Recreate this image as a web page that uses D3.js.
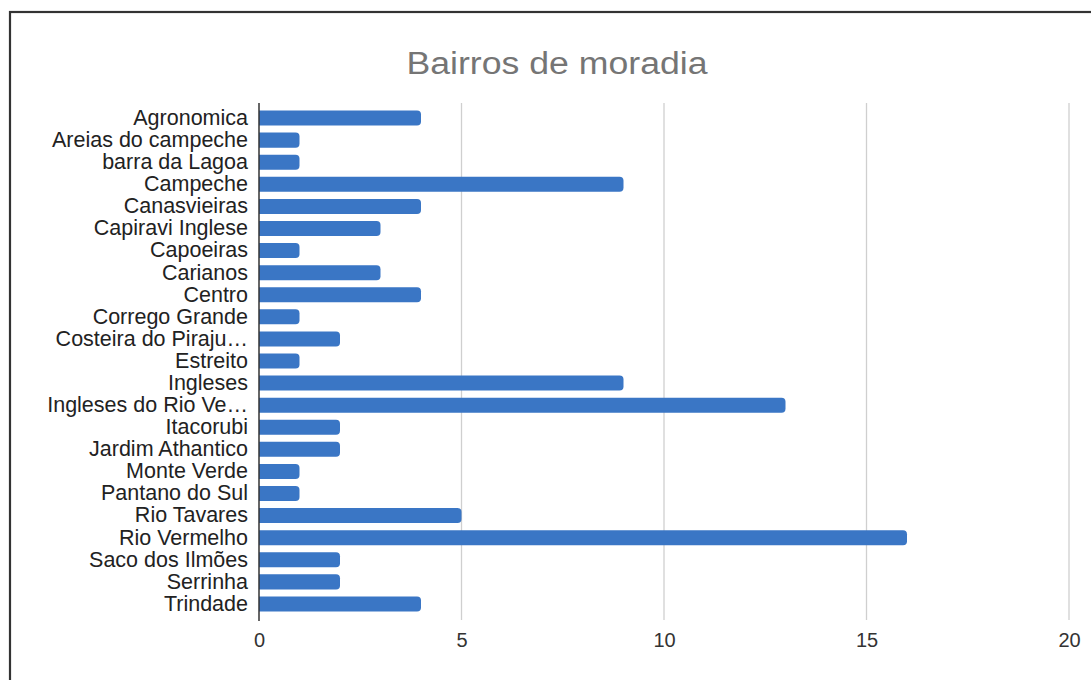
<!DOCTYPE html>
<html>
<head>
<meta charset="utf-8">
<script src="https://cdn.jsdelivr.net/npm/d3@7"></script>
<style>
  html, body { margin: 0; padding: 0; background: #fff; }
  svg { display: block; }
</style>
</head>
<body>
<svg id="chart" width="1091" height="680"></svg>
<script>
// Neighbourhoods of residence and number of respondents
const categories = [
  "Agronomica", "Areias do campeche", "barra da Lagoa", "Campeche", "Canasvieiras",
  "Capiravi Inglese", "Capoeiras", "Carianos", "Centro", "Corrego Grande",
  "Costeira do Piraju…", "Estreito", "Ingleses", "Ingleses do Rio Ve…", "Itacorubi",
  "Jardim Athantico", "Monte Verde", "Pantano do Sul", "Rio Tavares", "Rio Vermelho",
  "Saco dos Ilmões", "Serrinha", "Trindade"
];
const values = [4, 1, 1, 9, 4, 3, 1, 3, 4, 1, 2, 1, 9, 13, 2, 2, 1, 1, 5, 16, 2, 2, 4];
const xTicks = [0, 5, 10, 15, 20];
const titleText = "Bairros de moradia";

const svg = d3.select("#chart");
const font = "'Liberation Sans', Arial, sans-serif";

// outer frame
svg.append("rect")
  .attr("x", 10).attr("y", 12)
  .attr("width", 1100).attr("height", 700)
  .attr("fill", "none").attr("stroke", "#333").attr("stroke-width", 2.2);

const plotLeft = 259, plotRight = 1069, plotTop = 107, plotBottom = 615;

const x = d3.scaleLinear().domain([0, 20]).range([plotLeft, plotRight]);
const y = d3.scaleBand().domain(categories).range([plotTop, plotBottom]).paddingInner(0.32).paddingOuter(0.16);

// title
svg.append("text")
  .attr("x", 557).attr("y", 74)
  .attr("text-anchor", "middle")
  .attr("font-family", font).attr("font-size", 31)
  .attr("textLength", 301).attr("lengthAdjust", "spacingAndGlyphs")
  .attr("fill", "#757575")
  .text(titleText);

// vertical gridlines
svg.append("g").selectAll("line")
  .data(xTicks.filter(d => d > 0))
  .join("line")
  .attr("x1", d => x(d)).attr("x2", d => x(d))
  .attr("y1", 103).attr("y2", 620)
  .attr("stroke", "#cfcfcf").attr("stroke-width", 1.3);

// bars with rounded right end
const r = 4;
svg.append("g").selectAll("path")
  .data(values.map((v, i) => ({ c: categories[i], v })))
  .join("path")
  .attr("fill", "#3a76c5")
  .attr("d", d => {
    const x0 = x(0), x1 = x(d.v), y0 = y(d.c), h = y.bandwidth();
    return `M${x0},${y0} H${x1 - r} Q${x1},${y0} ${x1},${y0 + r} V${y0 + h - r} Q${x1},${y0 + h} ${x1 - r},${y0 + h} H${x0} Z`;
  });

// baseline
svg.append("line")
  .attr("x1", plotLeft).attr("x2", plotLeft)
  .attr("y1", 103).attr("y2", 621)
  .attr("stroke", "#333").attr("stroke-width", 1.5);

// category labels
const yAxis = d3.axisLeft(y).tickSize(0).tickPadding(11);
const gy = svg.append("g").attr("transform", `translate(${plotLeft},0)`).call(yAxis);
gy.select(".domain").remove();
gy.selectAll("text")
  .attr("font-family", font).attr("font-size", 21.5)
  .attr("fill", "#222");

// value axis labels
const xAxis = d3.axisBottom(x).tickValues(xTicks).tickSize(0).tickPadding(0);
const gx = svg.append("g").attr("transform", `translate(0,633)`).call(xAxis);
gx.select(".domain").remove();
gx.selectAll("text")
  .attr("font-family", font).attr("font-size", 20)
  .attr("fill", "#333");
</script>
</body>
</html>
